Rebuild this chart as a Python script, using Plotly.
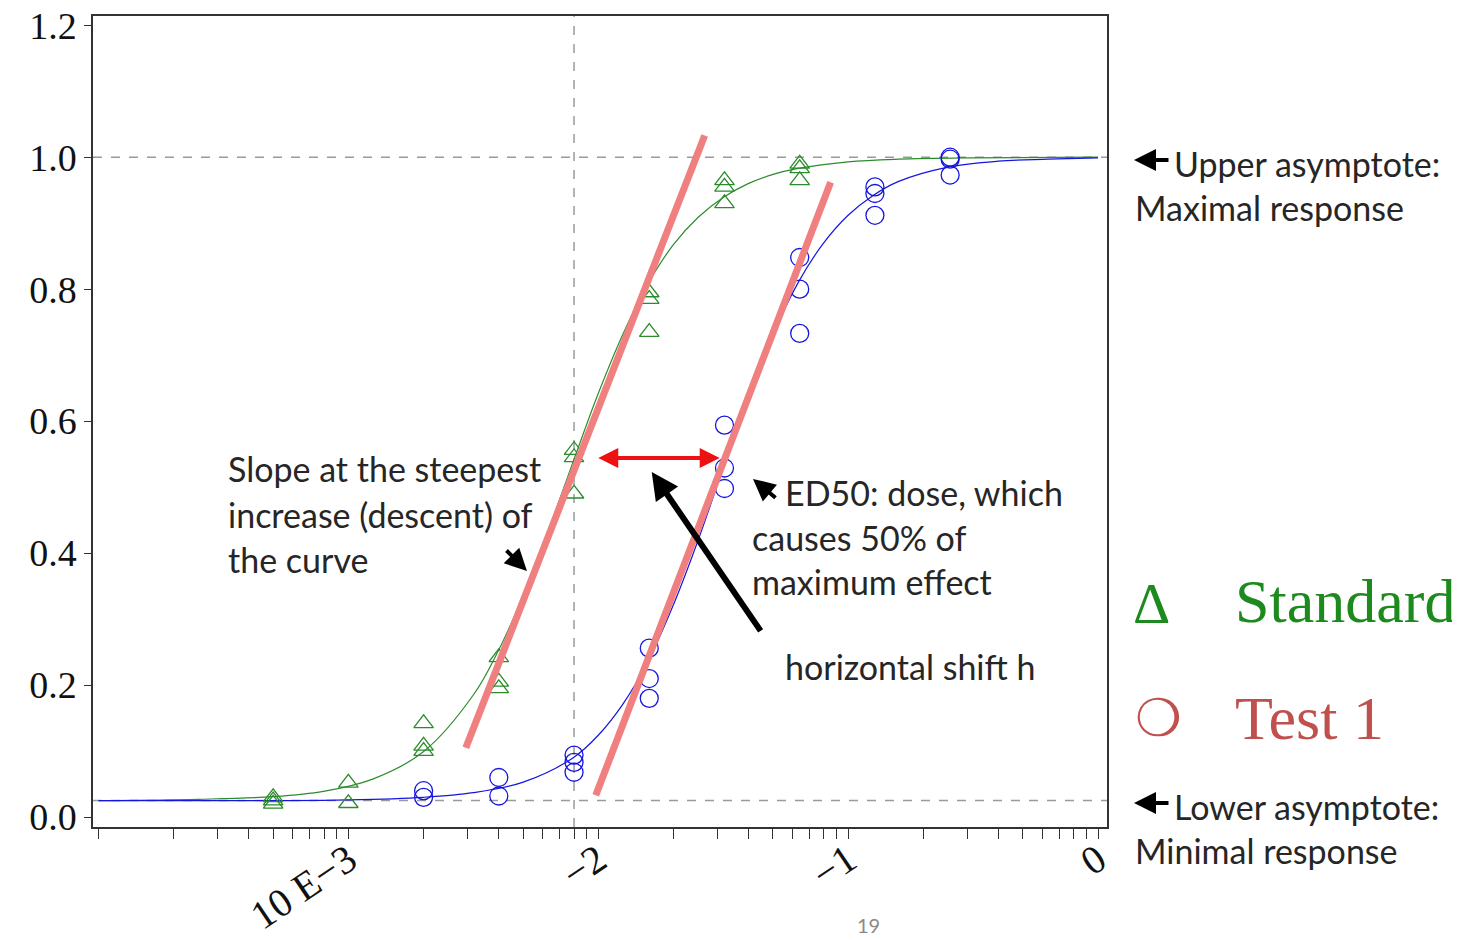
import numpy as np
import plotly.graph_objects as go

# ---------------- data ----------------
std_dose = [0.0005, 0.0005, 0.0005, 0.001, 0.001,
            0.002, 0.002, 0.002, 0.004, 0.004, 0.004,
            0.008, 0.008, 0.008, 0.016, 0.016, 0.016,
            0.032, 0.032, 0.032, 0.064, 0.064, 0.064]
std_resp = [0.030, 0.025, 0.020, 0.052, 0.021,
            0.142, 0.108, 0.100, 0.242, 0.205, 0.195,
            0.556, 0.545, 0.490, 0.795, 0.785, 0.735,
            0.965, 0.955, 0.930, 0.990, 0.983, 0.965]

test_dose = [0.002, 0.002, 0.004, 0.004,
             0.008, 0.008, 0.008, 0.016, 0.016, 0.016,
             0.032, 0.032, 0.032, 0.064, 0.064, 0.064,
             0.128, 0.128, 0.128, 0.256, 0.256, 0.256]
test_resp = [0.040, 0.030, 0.060, 0.032,
             0.094, 0.083, 0.068, 0.256, 0.210, 0.180,
             0.594, 0.529, 0.498, 0.848, 0.800, 0.733,
             0.955, 0.945, 0.912, 1.000, 0.997, 0.973]

# fitted curves (log10 dose, response)
std_curve_logx = [-4.0, -3.6, -3.3, -3.1, -2.9, -2.7, -2.5, -2.4, -2.3, -2.2, -2.1, -2.0,
                  -1.9, -1.8, -1.7, -1.6, -1.5, -1.4, -1.3, -1.2, -1.0, -0.8, -0.5, 0.0]
std_curve_y = [0.025, 0.027, 0.031, 0.039, 0.058, 0.099, 0.185, 0.252, 0.336, 0.434, 0.539, 0.642,
               0.733, 0.809, 0.867, 0.909, 0.939, 0.960, 0.974, 0.983, 0.993, 0.997, 0.999, 1.000]

test_curve_logx = [-4.0, -3.3, -3.0, -2.7, -2.5, -2.3, -2.1, -2.0, -1.9, -1.8, -1.7, -1.6,
                   -1.5, -1.4, -1.3, -1.2, -1.1, -1.0, -0.9, -0.8, -0.6, -0.4, -0.2, 0.0]
test_curve_y = [0.025, 0.025, 0.026, 0.030, 0.037, 0.053, 0.090, 0.124, 0.172, 0.237, 0.321, 0.420,
                0.529, 0.636, 0.732, 0.810, 0.869, 0.912, 0.942, 0.963, 0.985, 0.994, 0.997, 0.999]

# tangent (slope) lines at steepest increase
slope1_logx = [-2.53, -1.574]
slope1_y = [0.105, 1.033]
slope2_logx = [-2.01, -1.07]
slope2_y = [0.033, 0.962]

upper_asym = 1.0
lower_asym = 0.025
ed50_std_dose = 0.008

# axis ticks
major_exps = [-4, -3, -2, -1, 0]
major_labels = ["", "10 E\u22123", "\u22122", "\u22121", "0"]
y_ticks = [0.0, 0.2, 0.4, 0.6, 0.8, 1.0, 1.2]

# ---------------- figure ----------------
# the page body has an 8px margin; figure is shrunk so it fits the window
OFF = 8
W, H = 1460 - OFF, 940 - OFF
# plot-area edges in screen pixels
L, R, T, B = 93, 1107, 16, 827

def px(xp):
    return (xp - L) / (R - L)

def py(yp):
    return (B - yp) / (B - T)

XR = [-4.022, 0.036]
YR = [-0.015, 1.214]

fig = go.Figure()

GREEN = "#2b8c2b"
BLUE = "#1515e0"
SALMON = "#f07f7f"
GRAY = "#9a9a9a"

# vertical dashed line at standard ED50
fig.add_trace(go.Scatter(x=[ed50_std_dose, ed50_std_dose], y=YR, mode="lines",
                         line=dict(color=GRAY, width=1.5, dash="dash"),
                         hoverinfo="skip", showlegend=False))

# curves
fig.add_trace(go.Scatter(x=10 ** np.array(std_curve_logx), y=std_curve_y, mode="lines",
                         line=dict(color=GREEN, width=1.2, shape="spline"), showlegend=False))
fig.add_trace(go.Scatter(x=10 ** np.array(test_curve_logx), y=test_curve_y, mode="lines",
                         line=dict(color=BLUE, width=1.2, shape="spline"), showlegend=False))

# data points
fig.add_trace(go.Scatter(x=std_dose, y=std_resp, mode="markers", name="Standard",
                         marker=dict(symbol="triangle-up-open", size=17,
                                     color=GREEN, line=dict(width=1.3, color=GREEN)),
                         showlegend=False))
fig.add_trace(go.Scatter(x=test_dose, y=test_resp, mode="markers", name="Test 1",
                         marker=dict(symbol="circle-open", size=18,
                                     color=BLUE, line=dict(width=1.3, color=BLUE)),
                         showlegend=False))

# slope lines
fig.add_trace(go.Scatter(x=10 ** np.array(slope1_logx), y=slope1_y, mode="lines",
                         line=dict(color=SALMON, width=7), showlegend=False))
fig.add_trace(go.Scatter(x=10 ** np.array(slope2_logx), y=slope2_y, mode="lines",
                         line=dict(color=SALMON, width=7), showlegend=False))

# horizontal asymptote dashed lines
for yv in (upper_asym, lower_asym):
    fig.add_shape(type="line", xref="paper", x0=0, x1=1, yref="y", y0=yv, y1=yv,
                  line=dict(color=GRAY, width=1.5, dash="dash"), layer="below")

# x tick positions: all log minor positions
tickvals, ticktext = [], []
for e in major_exps:
    if e < 0:
        for m in range(1, 10):
            tickvals.append(m * 10.0 ** e)
            ticktext.append(major_labels[major_exps.index(e)] if m == 1 else "")
    else:
        tickvals.append(10.0 ** e)
        ticktext.append(major_labels[major_exps.index(e)])

TXT = "#262626"
SANS = "Lato"
FS = 34
annotations = []

def text(xp, yp, s, size=FS, color=TXT, family=SANS, xanchor="left"):
    annotations.append(dict(xref="paper", yref="paper", x=px(xp), y=py(yp), text=s,
                            showarrow=False, xanchor=xanchor, yanchor="middle",
                            font=dict(family=family, size=size, color=color)))

def small_arrow(hx, hy, ax, ay):
    annotations.append(dict(xref="paper", yref="paper", x=px(hx), y=py(hy), text="",
                            showarrow=True, ax=ax, ay=ay, arrowhead=2, arrowsize=1.1,
                            arrowwidth=4, arrowcolor="#000000", standoff=0))

# slope text
text(226, 468, "Slope at the steepest")
text(226, 514, "increase (descent) of")
text(226, 559, "the curve")
small_arrow(527, 571, -22, -22)

# ED50 text
text(783, 493, "ED50: dose, which")
text(750, 537, "causes 50% of")
text(750, 581, "maximum effect")
small_arrow(753, 479, 24, 20)

# horizontal shift
text(783, 666, "horizontal shift h")

# asymptotes
text(1172, 163, "Upper asymptote:")
text(1133, 208, "Maximal response")
small_arrow(1134, 160, 36, 0)
text(1172, 806, "Lower asymptote:")
text(1133, 850, "Minimal response")
small_arrow(1134, 803, 36, 0)

# legend-like labels
SERIF = "Liberation Serif"
text(1131, 603, "\u0394", size=58, color="#1d8a1d", family=SERIF)
text(1233, 601, "Standard", size=62, color="#1d8a1d", family=SERIF)
text(1133, 718, "\u274D", size=52, color="#c0504d", family="DejaVu Sans")
text(1233, 718, "Test 1", size=62, color="#c0504d", family=SERIF)

# page number
text(868, 925, "19", size=20, color="#8a8a8a", family=SANS, xanchor="center")

# red double arrow (horizontal shift)
annotations.append(dict(xref="x", yref="y", x=-1.514, y=0.544, axref="x", ayref="y",
                        ax=-2.006, ay=0.544, text="", showarrow=True, arrowhead=2,
                        startarrowhead=2, arrowside="end+start", arrowsize=1.0,
                        startarrowsize=1.0, arrowwidth=4, arrowcolor="#ee1111",
                        standoff=0, startstandoff=0))
# black arrow pointing to the shift
annotations.append(dict(xref="x", yref="y", x=-1.786, y=0.523, axref="x", ayref="y",
                        ax=-1.346, ay=0.280, text="", showarrow=True, arrowhead=2,
                        arrowsize=0.9, arrowwidth=6, arrowcolor="#000000", standoff=0))

fig.update_layout(
    width=W, height=H,
    margin=dict(l=L - OFF, r=W - (R - OFF), t=T - OFF, b=H - (B - OFF), pad=0, autoexpand=False),
    paper_bgcolor="white", plot_bgcolor="white",
    showlegend=False,
    annotations=annotations,
    xaxis=dict(type="log", range=XR, tickmode="array", tickvals=tickvals, ticktext=ticktext,
               ticks="outside", ticklen=10, tickwidth=1.2, tickcolor="#333333",
               showline=True, linecolor="#333333", linewidth=1.5, mirror=True,
               showgrid=False, zeroline=False, tickangle=-34, automargin=False,
               ticklabelstandoff=-18, ticklabeloverflow="allow",
               tickfont=dict(family=SERIF, size=40, color="#111111")),
    yaxis=dict(range=YR, tickmode="array", tickvals=y_ticks,
               ticktext=[f"{v:.1f}" for v in y_ticks],
               ticks="outside", ticklen=7, tickwidth=1.2, tickcolor="#333333",
               showline=True, linecolor="#333333", linewidth=1.5, mirror=True,
               showgrid=False, zeroline=False, automargin=False,
               ticklabeloverflow="allow",
               tickfont=dict(family=SERIF, size=38, color="#111111")),
)

fig.write_html("out.html")
